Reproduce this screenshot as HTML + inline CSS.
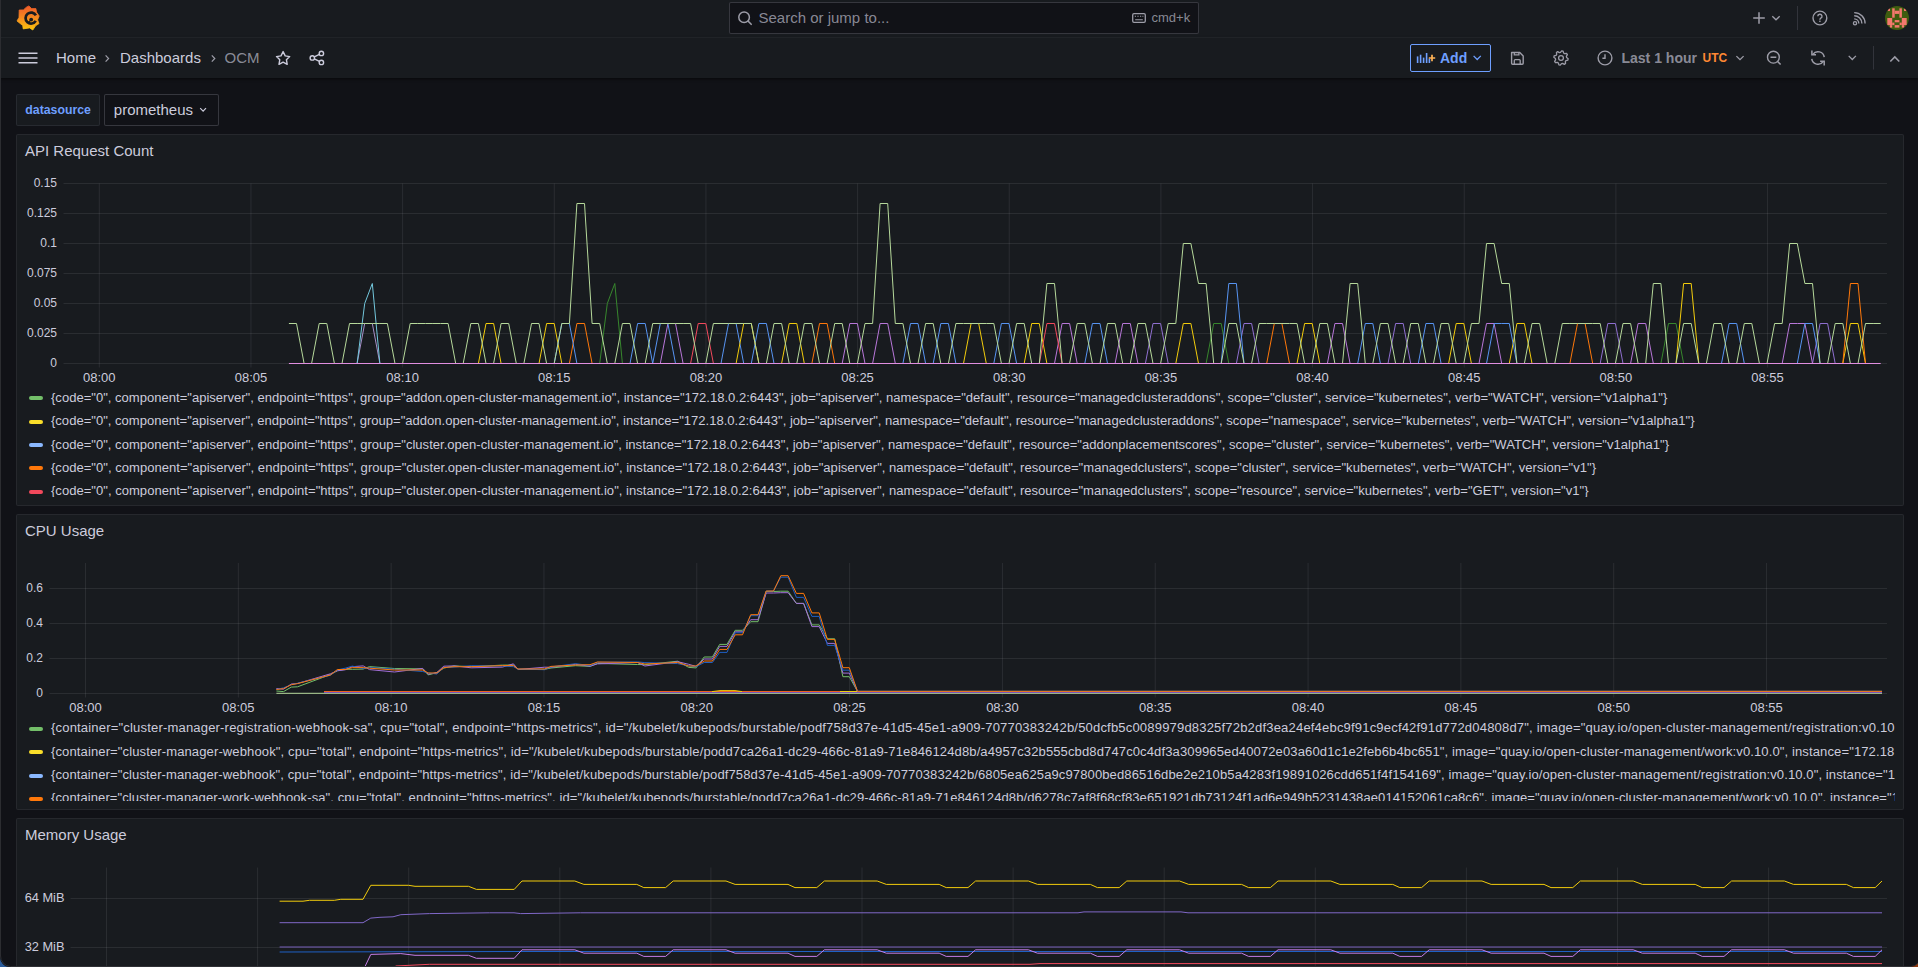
<!DOCTYPE html><html><head><meta charset="utf-8"><style>
*{box-sizing:border-box}
html,body{margin:0;padding:0}
body{width:1918px;height:967px;overflow:hidden;background:#111217;position:relative;font-family:"Liberation Sans",sans-serif}
.t{position:absolute;white-space:nowrap;line-height:1}
.b{position:absolute}
.lg{position:absolute;overflow:hidden}
.li{position:absolute;left:0;height:20px;white-space:nowrap;font-size:13.05px;color:#ccccdc;line-height:20px}
.dash{position:absolute;left:0;top:10.6px;width:14px;height:4px;border-radius:2px}
.lt{position:absolute;left:22px;top:2px}
svg.ov{position:absolute;left:0;top:0}
</style></head><body>
<div class="b" style="left:0px;top:0px;width:1918px;height:38px;background:#181b1f;border-radius:0px;border-bottom:1px solid rgba(204,204,220,0.07)"></div><div class="b" style="left:0px;top:38px;width:1918px;height:40px;background:#181b1f;border-radius:0px;box-shadow:0 1px 3px rgba(0,0,0,0.6)"></div><div class="b" style="left:729px;top:2px;width:470px;height:32px;background:#111217;border:1px solid rgba(204,204,220,0.2);border-radius:2px;"></div><div class="t" style="left:758.5px;top:10.30px;font-size:15px;color:rgba(204,204,220,0.65);font-weight:400;">Search or jump to...</div><div class="t" style="left:1151.5px;top:10.50px;font-size:13px;color:rgba(204,204,220,0.65);font-weight:400;">cmd+k</div><div class="t" style="left:56px;top:50.30px;font-size:15px;color:#ccccdc;font-weight:400;">Home</div><div class="t" style="left:120px;top:50.30px;font-size:15px;color:#ccccdc;font-weight:400;">Dashboards</div><div class="t" style="left:224.5px;top:50.30px;font-size:15px;color:rgba(204,204,220,0.65);font-weight:400;">OCM</div><div class="b" style="left:1410px;top:44px;width:81px;height:28px;background:transparent;border:1px solid #6e9fff;border-radius:2px;"></div><div class="t" style="left:1440px;top:51.15px;font-size:14px;color:#6e9fff;font-weight:700;">Add</div><div class="t" style="left:1621.5px;top:51.15px;font-size:14px;color:rgba(204,204,220,0.65);font-weight:700;">Last 1 hour</div><div class="t" style="left:1702.5px;top:52.34px;font-size:12px;color:#ff8833;font-weight:700;">UTC</div><div class="b" style="left:16px;top:94px;width:84px;height:32px;background:#181b1f;border:1px solid rgba(204,204,220,0.09);border-radius:2px;"></div><div class="t" style="left:25.3px;top:103.79px;font-size:12.3px;color:#6e9fff;font-weight:700;">datasource</div><div class="b" style="left:104px;top:94px;width:115px;height:32px;background:#111217;border:1px solid rgba(204,204,220,0.2);border-radius:2px;"></div><div class="t" style="left:113.8px;top:101.50px;font-size:15px;color:#ccccdc;font-weight:400;">prometheus</div><div class="b" style="left:16px;top:134px;width:1888px;height:372px;background:#181b1f;border:1px solid rgba(204,204,220,0.08);border-radius:2px;"></div><div class="t" style="left:25px;top:143.30px;font-size:15px;color:#ccccdc;font-weight:400;">API Request Count</div><div class="b" style="left:16px;top:514px;width:1888px;height:296px;background:#181b1f;border:1px solid rgba(204,204,220,0.08);border-radius:2px;"></div><div class="t" style="left:25px;top:523.30px;font-size:15px;color:#ccccdc;font-weight:400;">CPU Usage</div><div class="b" style="left:16px;top:818px;width:1888px;height:182px;background:#181b1f;border:1px solid rgba(204,204,220,0.08);border-radius:2px;"></div><div class="t" style="left:25px;top:827.30px;font-size:15px;color:#ccccdc;font-weight:400;">Memory Usage</div><div class="t" style="right:1861px;top:177.04px;font-size:12px;color:#ccccdc;font-weight:400;">0.15</div><div class="t" style="right:1861px;top:207.04px;font-size:12px;color:#ccccdc;font-weight:400;">0.125</div><div class="t" style="right:1861px;top:237.04px;font-size:12px;color:#ccccdc;font-weight:400;">0.1</div><div class="t" style="right:1861px;top:267.04px;font-size:12px;color:#ccccdc;font-weight:400;">0.075</div><div class="t" style="right:1861px;top:297.04px;font-size:12px;color:#ccccdc;font-weight:400;">0.05</div><div class="t" style="right:1861px;top:327.04px;font-size:12px;color:#ccccdc;font-weight:400;">0.025</div><div class="t" style="right:1861px;top:357.04px;font-size:12px;color:#ccccdc;font-weight:400;">0</div><div class="t" style="left:59.3px;width:80px;text-align:center;top:371.00px;font-size:13px;color:#ccccdc">08:00</div><div class="t" style="left:210.95999999999998px;width:80px;text-align:center;top:371.00px;font-size:13px;color:#ccccdc">08:05</div><div class="t" style="left:362.62px;width:80px;text-align:center;top:371.00px;font-size:13px;color:#ccccdc">08:10</div><div class="t" style="left:514.28px;width:80px;text-align:center;top:371.00px;font-size:13px;color:#ccccdc">08:15</div><div class="t" style="left:665.9399999999999px;width:80px;text-align:center;top:371.00px;font-size:13px;color:#ccccdc">08:20</div><div class="t" style="left:817.5999999999999px;width:80px;text-align:center;top:371.00px;font-size:13px;color:#ccccdc">08:25</div><div class="t" style="left:969.26px;width:80px;text-align:center;top:371.00px;font-size:13px;color:#ccccdc">08:30</div><div class="t" style="left:1120.9199999999998px;width:80px;text-align:center;top:371.00px;font-size:13px;color:#ccccdc">08:35</div><div class="t" style="left:1272.58px;width:80px;text-align:center;top:371.00px;font-size:13px;color:#ccccdc">08:40</div><div class="t" style="left:1424.24px;width:80px;text-align:center;top:371.00px;font-size:13px;color:#ccccdc">08:45</div><div class="t" style="left:1575.8999999999999px;width:80px;text-align:center;top:371.00px;font-size:13px;color:#ccccdc">08:50</div><div class="t" style="left:1727.56px;width:80px;text-align:center;top:371.00px;font-size:13px;color:#ccccdc">08:55</div><div class="t" style="right:1875px;top:582.04px;font-size:12px;color:#ccccdc;font-weight:400;">0.6</div><div class="t" style="right:1875px;top:617.04px;font-size:12px;color:#ccccdc;font-weight:400;">0.4</div><div class="t" style="right:1875px;top:652.04px;font-size:12px;color:#ccccdc;font-weight:400;">0.2</div><div class="t" style="right:1875px;top:687.04px;font-size:12px;color:#ccccdc;font-weight:400;">0</div><div class="t" style="left:45.5px;width:80px;text-align:center;top:701.00px;font-size:13px;color:#ccccdc">08:00</div><div class="t" style="left:198.32px;width:80px;text-align:center;top:701.00px;font-size:13px;color:#ccccdc">08:05</div><div class="t" style="left:351.14px;width:80px;text-align:center;top:701.00px;font-size:13px;color:#ccccdc">08:10</div><div class="t" style="left:503.96000000000004px;width:80px;text-align:center;top:701.00px;font-size:13px;color:#ccccdc">08:15</div><div class="t" style="left:656.78px;width:80px;text-align:center;top:701.00px;font-size:13px;color:#ccccdc">08:20</div><div class="t" style="left:809.5999999999999px;width:80px;text-align:center;top:701.00px;font-size:13px;color:#ccccdc">08:25</div><div class="t" style="left:962.42px;width:80px;text-align:center;top:701.00px;font-size:13px;color:#ccccdc">08:30</div><div class="t" style="left:1115.24px;width:80px;text-align:center;top:701.00px;font-size:13px;color:#ccccdc">08:35</div><div class="t" style="left:1268.06px;width:80px;text-align:center;top:701.00px;font-size:13px;color:#ccccdc">08:40</div><div class="t" style="left:1420.8799999999999px;width:80px;text-align:center;top:701.00px;font-size:13px;color:#ccccdc">08:45</div><div class="t" style="left:1573.6999999999998px;width:80px;text-align:center;top:701.00px;font-size:13px;color:#ccccdc">08:50</div><div class="t" style="left:1726.52px;width:80px;text-align:center;top:701.00px;font-size:13px;color:#ccccdc">08:55</div><div class="t" style="right:1853.5px;top:891.66px;font-size:12.8px;color:#ccccdc;font-weight:400;">64 MiB</div><div class="t" style="right:1853.5px;top:940.66px;font-size:12.8px;color:#ccccdc;font-weight:400;">32 MiB</div><div class="lg" style="left:29px;top:385.9px;width:1866px;height:111.10000000000002px"><div class="li" style="top:0.00px"><span class="dash" style="background:#73bf69"></span><span class="lt" style="letter-spacing:0.0034px">{code="0", component="apiserver", endpoint="https", group="addon.open-cluster-management.io", instance="172.18.0.2:6443", job="apiserver", namespace="default", resource="managedclusteraddons", scope="cluster", service="kubernetes", verb="WATCH", version="v1alpha1"}</span></div><div class="li" style="top:23.33px"><span class="dash" style="background:#fade2a"></span><span class="lt" style="letter-spacing:-0.0035px">{code="0", component="apiserver", endpoint="https", group="addon.open-cluster-management.io", instance="172.18.0.2:6443", job="apiserver", namespace="default", resource="managedclusteraddons", scope="namespace", service="kubernetes", verb="WATCH", version="v1alpha1"}</span></div><div class="li" style="top:46.66px"><span class="dash" style="background:#8ab8ff"></span><span class="lt" style="letter-spacing:0.0072px">{code="0", component="apiserver", endpoint="https", group="cluster.open-cluster-management.io", instance="172.18.0.2:6443", job="apiserver", namespace="default", resource="addonplacementscores", scope="cluster", service="kubernetes", verb="WATCH", version="v1alpha1"}</span></div><div class="li" style="top:69.99px"><span class="dash" style="background:#ff780a"></span><span class="lt" style="letter-spacing:0.0145px">{code="0", component="apiserver", endpoint="https", group="cluster.open-cluster-management.io", instance="172.18.0.2:6443", job="apiserver", namespace="default", resource="managedclusters", scope="cluster", service="kubernetes", verb="WATCH", version="v1"}</span></div><div class="li" style="top:93.32px"><span class="dash" style="background:#f2495c"></span><span class="lt" style="letter-spacing:0.0134px">{code="0", component="apiserver", endpoint="https", group="cluster.open-cluster-management.io", instance="172.18.0.2:6443", job="apiserver", namespace="default", resource="managedclusters", scope="resource", service="kubernetes", verb="GET", version="v1"}</span></div></div><div class="lg" style="left:29px;top:716.4px;width:1866px;height:84.60000000000002px"><div class="li" style="top:0.00px"><span class="dash" style="background:#73bf69"></span><span class="lt" style="letter-spacing:0.169px">{container="cluster-manager-registration-webhook-sa", cpu="total", endpoint="https-metrics", id="/kubelet/kubepods/burstable/podf758d37e-41d5-45e1-a909-70770383242b/50dcfb5c0089979d8325f72b2df3ea24ef4ebc9f91c9ecf42f91d772d04808d7", image="quay.io/open-cluster-management/registration:v0.10.0", instance="172.18.0.2:10250"}</span></div><div class="li" style="top:23.33px"><span class="dash" style="background:#fade2a"></span><span class="lt" style="letter-spacing:0.1053px">{container="cluster-manager-webhook", cpu="total", endpoint="https-metrics", id="/kubelet/kubepods/burstable/podd7ca26a1-dc29-466c-81a9-71e846124d8b/a4957c32b555cbd8d747c0c4df3a309965ed40072e03a60d1c1e2feb6b4bc651", image="quay.io/open-cluster-management/work:v0.10.0", instance="172.18.0.2:10250"}</span></div><div class="li" style="top:46.66px"><span class="dash" style="background:#8ab8ff"></span><span class="lt" style="letter-spacing:0.0987px">{container="cluster-manager-webhook", cpu="total", endpoint="https-metrics", id="/kubelet/kubepods/burstable/podf758d37e-41d5-45e1-a909-70770383242b/6805ea625a9c97800bed86516dbe2e210b5a4283f19891026cdd651f4f154169", image="quay.io/open-cluster-management/registration:v0.10.0", instance="172.18.0.2:10250"}</span></div><div class="li" style="top:69.99px"><span class="dash" style="background:#ff780a"></span><span class="lt" style="letter-spacing:0.0799px">{container="cluster-manager-work-webhook-sa", cpu="total", endpoint="https-metrics", id="/kubelet/kubepods/burstable/podd7ca26a1-dc29-466c-81a9-71e846124d8b/d6278c7af8f68cf83e651921db73124f1ad6e949b5231438ae014152061ca8c6", image="quay.io/open-cluster-management/work:v0.10.0", instance="172.18.0.2:10250"}</span></div></div>
<svg class="ov" width="1918" height="967" viewBox="0 0 1918 967" fill="none"><path d="M63.5 183.5H1887" stroke="rgba(204,204,220,0.10)"/><path d="M63.5 213.5H1887" stroke="rgba(204,204,220,0.10)"/><path d="M63.5 243.5H1887" stroke="rgba(204,204,220,0.10)"/><path d="M63.5 273.5H1887" stroke="rgba(204,204,220,0.10)"/><path d="M63.5 303.5H1887" stroke="rgba(204,204,220,0.10)"/><path d="M63.5 333.5H1887" stroke="rgba(204,204,220,0.10)"/><path d="M63.5 363.5H1887" stroke="rgba(204,204,220,0.10)"/><path d="M99.3 183.5V367.5" stroke="rgba(204,204,220,0.10)"/><path d="M250.95999999999998 183.5V367.5" stroke="rgba(204,204,220,0.10)"/><path d="M402.62 183.5V367.5" stroke="rgba(204,204,220,0.10)"/><path d="M554.28 183.5V367.5" stroke="rgba(204,204,220,0.10)"/><path d="M705.9399999999999 183.5V367.5" stroke="rgba(204,204,220,0.10)"/><path d="M857.5999999999999 183.5V367.5" stroke="rgba(204,204,220,0.10)"/><path d="M1009.26 183.5V367.5" stroke="rgba(204,204,220,0.10)"/><path d="M1160.9199999999998 183.5V367.5" stroke="rgba(204,204,220,0.10)"/><path d="M1312.58 183.5V367.5" stroke="rgba(204,204,220,0.10)"/><path d="M1464.24 183.5V367.5" stroke="rgba(204,204,220,0.10)"/><path d="M1615.8999999999999 183.5V367.5" stroke="rgba(204,204,220,0.10)"/><path d="M1767.56 183.5V367.5" stroke="rgba(204,204,220,0.10)"/><path d="M49.5 588.5H1887" stroke="rgba(204,204,220,0.10)"/><path d="M49.5 623.5H1887" stroke="rgba(204,204,220,0.10)"/><path d="M49.5 658.5H1887" stroke="rgba(204,204,220,0.10)"/><path d="M49.5 693.5H1887" stroke="rgba(204,204,220,0.10)"/><path d="M85.5 563V697.5" stroke="rgba(204,204,220,0.10)"/><path d="M238.32 563V697.5" stroke="rgba(204,204,220,0.10)"/><path d="M391.14 563V697.5" stroke="rgba(204,204,220,0.10)"/><path d="M543.96 563V697.5" stroke="rgba(204,204,220,0.10)"/><path d="M696.78 563V697.5" stroke="rgba(204,204,220,0.10)"/><path d="M849.5999999999999 563V697.5" stroke="rgba(204,204,220,0.10)"/><path d="M1002.42 563V697.5" stroke="rgba(204,204,220,0.10)"/><path d="M1155.24 563V697.5" stroke="rgba(204,204,220,0.10)"/><path d="M1308.06 563V697.5" stroke="rgba(204,204,220,0.10)"/><path d="M1460.8799999999999 563V697.5" stroke="rgba(204,204,220,0.10)"/><path d="M1613.6999999999998 563V697.5" stroke="rgba(204,204,220,0.10)"/><path d="M1766.52 563V697.5" stroke="rgba(204,204,220,0.10)"/><path d="M70.5 898.5H1887" stroke="rgba(204,204,220,0.10)"/><path d="M70.5 947.5H1887" stroke="rgba(204,204,220,0.10)"/><path d="M106.5 867.5V1104" stroke="rgba(204,204,220,0.10)"/><path d="M257.6 867.5V1104" stroke="rgba(204,204,220,0.10)"/><path d="M408.7 867.5V1104" stroke="rgba(204,204,220,0.10)"/><path d="M559.8 867.5V1104" stroke="rgba(204,204,220,0.10)"/><path d="M710.9 867.5V1104" stroke="rgba(204,204,220,0.10)"/><path d="M862.0 867.5V1104" stroke="rgba(204,204,220,0.10)"/><path d="M1013.0999999999999 867.5V1104" stroke="rgba(204,204,220,0.10)"/><path d="M1164.2 867.5V1104" stroke="rgba(204,204,220,0.10)"/><path d="M1315.3 867.5V1104" stroke="rgba(204,204,220,0.10)"/><path d="M1466.3999999999999 867.5V1104" stroke="rgba(204,204,220,0.10)"/><path d="M1617.5 867.5V1104" stroke="rgba(204,204,220,0.10)"/><path d="M1768.6 867.5V1104" stroke="rgba(204,204,220,0.10)"/><path d="M478.4 363.5 L486.0 323.5 L493.6 323.5 L501.1 363.5" stroke="#f2cc0c" stroke-width="1" stroke-opacity="1" fill="none" stroke-linejoin="round"/><path d="M539.0 363.5 L546.6 323.5 L554.2 323.5 L561.8 363.5" stroke="#f2cc0c" stroke-width="1" stroke-opacity="1" fill="none" stroke-linejoin="round"/><path d="M569.4 363.5 L576.9 323.5 L584.5 323.5 L592.1 363.5" stroke="#ff780a" stroke-width="1" stroke-opacity="1" fill="none" stroke-linejoin="round"/><path d="M630.0 363.5 L637.6 323.5 L645.2 323.5 L652.7 363.5" stroke="#5794f2" stroke-width="1" stroke-opacity="1" fill="none" stroke-linejoin="round"/><path d="M660.3 363.5 L667.9 323.5 L675.5 323.5 L683.1 363.5" stroke="#b877d9" stroke-width="1" stroke-opacity="1" fill="none" stroke-linejoin="round"/><path d="M690.6 363.5 L698.2 323.5 L705.8 323.5 L713.4 363.5" stroke="#f2495c" stroke-width="1" stroke-opacity="1" fill="none" stroke-linejoin="round"/><path d="M721.0 363.5 L728.5 323.5 L736.1 323.5 L743.7 363.5" stroke="#5794f2" stroke-width="1" stroke-opacity="1" fill="none" stroke-linejoin="round"/><path d="M751.3 363.5 L758.9 323.5 L766.4 323.5 L774.0 363.5" stroke="#5794f2" stroke-width="1" stroke-opacity="1" fill="none" stroke-linejoin="round"/><path d="M781.6 363.5 L789.2 323.5 L796.8 323.5 L804.3 363.5" stroke="#f2cc0c" stroke-width="1" stroke-opacity="1" fill="none" stroke-linejoin="round"/><path d="M811.9 363.5 L819.5 323.5 L827.1 323.5 L834.7 363.5" stroke="#ff780a" stroke-width="1" stroke-opacity="1" fill="none" stroke-linejoin="round"/><path d="M842.2 363.5 L849.8 323.5 L857.4 323.5 L865.0 363.5" stroke="#b877d9" stroke-width="1" stroke-opacity="1" fill="none" stroke-linejoin="round"/><path d="M872.6 363.5 L880.1 323.5 L887.7 323.5 L895.3 363.5" stroke="#b877d9" stroke-width="1" stroke-opacity="1" fill="none" stroke-linejoin="round"/><path d="M902.9 363.5 L910.5 323.5 L918.0 323.5 L925.6 363.5" stroke="#5794f2" stroke-width="1" stroke-opacity="1" fill="none" stroke-linejoin="round"/><path d="M933.2 363.5 L940.8 323.5 L948.4 323.5 L955.9 363.5" stroke="#5794f2" stroke-width="1" stroke-opacity="1" fill="none" stroke-linejoin="round"/><path d="M963.5 363.5 L971.1 323.5 L978.7 323.5 L986.3 363.5" stroke="#f2cc0c" stroke-width="1" stroke-opacity="1" fill="none" stroke-linejoin="round"/><path d="M993.8 363.5 L1001.4 323.5 L1009.0 323.5 L1016.6 363.5" stroke="#5794f2" stroke-width="1" stroke-opacity="1" fill="none" stroke-linejoin="round"/><path d="M1024.2 363.5 L1031.7 323.5 L1039.3 323.5 L1046.9 363.5" stroke="#f2cc0c" stroke-width="1" stroke-opacity="1" fill="none" stroke-linejoin="round"/><path d="M1054.5 363.5 L1062.1 323.5 L1069.6 323.5 L1077.2 363.5" stroke="#b877d9" stroke-width="1" stroke-opacity="1" fill="none" stroke-linejoin="round"/><path d="M1084.8 363.5 L1092.4 323.5 L1100.0 323.5 L1107.5 363.5" stroke="#5794f2" stroke-width="1" stroke-opacity="1" fill="none" stroke-linejoin="round"/><path d="M1115.1 363.5 L1122.7 323.5 L1130.3 323.5 L1137.9 363.5" stroke="#b877d9" stroke-width="1" stroke-opacity="1" fill="none" stroke-linejoin="round"/><path d="M1145.4 363.5 L1153.0 323.5 L1160.6 323.5 L1168.2 363.5" stroke="#8f6fd0" stroke-width="1" stroke-opacity="1" fill="none" stroke-linejoin="round"/><path d="M1175.8 363.5 L1183.3 323.5 L1190.9 323.5 L1198.5 363.5" stroke="#f2cc0c" stroke-width="1" stroke-opacity="1" fill="none" stroke-linejoin="round"/><path d="M1206.1 363.5 L1213.7 323.5 L1221.2 323.5 L1228.8 363.5" stroke="#37872d" stroke-width="1" stroke-opacity="1" fill="none" stroke-linejoin="round"/><path d="M1236.4 363.5 L1244.0 323.5 L1251.6 323.5 L1259.1 363.5" stroke="#8f6fd0" stroke-width="1" stroke-opacity="1" fill="none" stroke-linejoin="round"/><path d="M1266.7 363.5 L1274.3 323.5 L1281.9 323.5 L1289.5 363.5" stroke="#ff780a" stroke-width="1" stroke-opacity="1" fill="none" stroke-linejoin="round"/><path d="M1297.0 363.5 L1304.6 323.5 L1312.2 323.5 L1319.8 363.5" stroke="#f2cc0c" stroke-width="1" stroke-opacity="1" fill="none" stroke-linejoin="round"/><path d="M1327.4 363.5 L1334.9 323.5 L1342.5 323.5 L1350.1 363.5" stroke="#b877d9" stroke-width="1" stroke-opacity="1" fill="none" stroke-linejoin="round"/><path d="M1357.7 363.5 L1365.3 323.5 L1372.8 323.5 L1380.4 363.5" stroke="#5794f2" stroke-width="1" stroke-opacity="1" fill="none" stroke-linejoin="round"/><path d="M1388.0 363.5 L1395.6 323.5 L1403.2 323.5 L1410.7 363.5" stroke="#8f6fd0" stroke-width="1" stroke-opacity="1" fill="none" stroke-linejoin="round"/><path d="M1418.3 363.5 L1425.9 323.5 L1433.5 323.5 L1441.1 363.5" stroke="#5794f2" stroke-width="1" stroke-opacity="1" fill="none" stroke-linejoin="round"/><path d="M1448.6 363.5 L1456.2 323.5 L1463.8 323.5 L1471.4 363.5" stroke="#f2cc0c" stroke-width="1" stroke-opacity="1" fill="none" stroke-linejoin="round"/><path d="M1479.0 363.5 L1486.5 323.5 L1494.1 323.5 L1501.7 363.5" stroke="#b877d9" stroke-width="1" stroke-opacity="1" fill="none" stroke-linejoin="round"/><path d="M1509.3 363.5 L1516.9 323.5 L1524.4 323.5 L1532.0 363.5" stroke="#f2cc0c" stroke-width="1" stroke-opacity="1" fill="none" stroke-linejoin="round"/><path d="M1569.9 363.5 L1577.5 323.5 L1585.1 323.5 L1592.7 363.5" stroke="#ff780a" stroke-width="1" stroke-opacity="1" fill="none" stroke-linejoin="round"/><path d="M1600.2 363.5 L1607.8 323.5 L1615.4 323.5 L1623.0 363.5" stroke="#8f6fd0" stroke-width="1" stroke-opacity="1" fill="none" stroke-linejoin="round"/><path d="M1630.6 363.5 L1638.1 323.5 L1645.7 323.5 L1653.3 363.5" stroke="#b877d9" stroke-width="1" stroke-opacity="1" fill="none" stroke-linejoin="round"/><path d="M1660.9 363.5 L1668.5 323.5 L1676.0 323.5 L1683.6 363.5" stroke="#37872d" stroke-width="1" stroke-opacity="1" fill="none" stroke-linejoin="round"/><path d="M1721.5 363.5 L1729.1 323.5 L1736.7 323.5 L1744.3 363.5" stroke="#5794f2" stroke-width="1" stroke-opacity="1" fill="none" stroke-linejoin="round"/><path d="M1812.5 363.5 L1820.1 323.5 L1827.6 323.5 L1835.2 363.5" stroke="#8f6fd0" stroke-width="1" stroke-opacity="1" fill="none" stroke-linejoin="round"/><path d="M1842.8 363.5 L1850.4 323.5 L1858.0 323.5 L1865.5 363.5" stroke="#f2cc0c" stroke-width="1" stroke-opacity="1" fill="none" stroke-linejoin="round"/><path d="M357.1 363.5 L364.7 323.5 L372.3 323.5 L379.9 363.5" stroke="#a58fc8" stroke-width="1" stroke-opacity="1" fill="none" stroke-linejoin="round"/><path d="M357.1 363.5 L364.7 303.5 L372.3 283.5 L379.9 363.5" stroke="#73c7dc" stroke-width="1" stroke-opacity="1" fill="none" stroke-linejoin="round"/><path d="M599.7 363.5 L607.3 303.5 L614.8 283.5 L622.4 363.5" stroke="#37872d" stroke-width="1" stroke-opacity="1" fill="none" stroke-linejoin="round"/><path d="M1039.3 363.5 L1046.9 323.5 L1054.5 323.5 L1062.1 363.5" stroke="#f2495c" stroke-width="1" stroke-opacity="1" fill="none" stroke-linejoin="round"/><path d="M1782.2 363.5 L1789.7 323.5 L1797.3 323.5 L1804.9 323.5 L1812.5 363.5" stroke="#b877d9" stroke-width="1" stroke-opacity="1" fill="none" stroke-linejoin="round"/><path d="M1797.3 363.5 L1804.9 323.5 L1812.5 323.5 L1820.1 363.5" stroke="#5794f2" stroke-width="1" stroke-opacity="1" fill="none" stroke-linejoin="round"/><path d="M554.2 363.5 L561.8 323.5 L569.4 323.5 L576.9 363.5" stroke="#5794f2" stroke-width="1" stroke-opacity="1" fill="none" stroke-linejoin="round"/><path d="M736.1 363.5 L743.7 323.5 L751.3 323.5 L758.9 363.5" stroke="#f2cc0c" stroke-width="1" stroke-opacity="1" fill="none" stroke-linejoin="round"/><path d="M652.7 363.5 L660.3 323.5 L667.9 323.5 L675.5 363.5" stroke="#5794f2" stroke-width="1" stroke-opacity="1" fill="none" stroke-linejoin="round"/><path d="M1221.2 363.5 L1228.8 283.5 L1236.4 283.5 L1244.0 363.5" stroke="#5794f2" stroke-width="1" stroke-opacity="1" fill="none" stroke-linejoin="round"/><path d="M1676.0 363.5 L1683.6 283.5 L1691.2 283.5 L1698.8 363.5" stroke="#f2cc0c" stroke-width="1" stroke-opacity="1" fill="none" stroke-linejoin="round"/><path d="M1842.8 363.5 L1850.4 283.5 L1858.0 283.5 L1865.5 363.5" stroke="#ff780a" stroke-width="1" stroke-opacity="1" fill="none" stroke-linejoin="round"/><path d="M1486.5 363.5 L1494.1 323.5 L1501.7 323.5 L1509.3 323.5 L1516.9 363.5" stroke="#5794f2" stroke-width="1" stroke-opacity="1" fill="none" stroke-linejoin="round"/><path d="M288.9 323.5 L296.5 323.5 L304.1 363.5 L311.6 363.5 L319.2 323.5 L326.8 323.5 L334.4 363.5 L342.0 363.5 L349.5 323.5 L357.1 323.5 L364.7 323.5 L372.3 323.5 L379.9 323.5 L387.4 323.5 L395.0 363.5 L402.6 363.5 L410.2 323.5 L417.8 323.5 L425.3 323.5 L432.9 323.5 L440.5 323.5 L448.1 323.5 L455.7 363.5 L463.2 363.5 L470.8 323.5 L478.4 323.5 L486.0 363.5 L493.6 363.5 L501.1 323.5 L508.7 323.5 L516.3 363.5 L523.9 363.5 L531.5 323.5 L539.0 323.5 L546.6 363.5 L554.2 363.5 L561.8 323.5 L569.4 323.5 L576.9 203.5 L584.5 203.5 L592.1 323.5 L599.7 323.5 L607.3 363.5 L614.8 363.5 L622.4 323.5 L630.0 323.5 L637.6 363.5 L645.2 363.5 L652.7 323.5 L660.3 323.5 L667.9 323.5 L675.5 323.5 L683.1 323.5 L690.6 323.5 L698.2 363.5 L705.8 363.5 L713.4 323.5 L721.0 323.5 L728.5 323.5 L736.1 323.5 L743.7 323.5 L751.3 323.5 L758.9 363.5 L766.4 363.5 L774.0 323.5 L781.6 323.5 L789.2 363.5 L796.8 363.5 L804.3 323.5 L811.9 323.5 L819.5 363.5 L827.1 363.5 L834.7 323.5 L842.2 323.5 L849.8 363.5 L857.4 363.5 L865.0 323.5 L872.6 323.5 L880.1 203.5 L887.7 203.5 L895.3 323.5 L902.9 323.5 L910.5 363.5 L918.0 363.5 L925.6 323.5 L933.2 323.5 L940.8 363.5 L948.4 363.5 L955.9 323.5 L963.5 323.5 L971.1 323.5 L978.7 323.5 L986.3 323.5 L993.8 323.5 L1001.4 363.5 L1009.0 363.5 L1016.6 323.5 L1024.2 323.5 L1031.7 363.5 L1039.3 363.5 L1046.9 283.5 L1054.5 283.5 L1062.1 363.5 L1069.6 363.5 L1077.2 323.5 L1084.8 323.5 L1092.4 363.5 L1100.0 363.5 L1107.5 323.5 L1115.1 323.5 L1122.7 363.5 L1130.3 363.5 L1137.9 323.5 L1145.4 323.5 L1153.0 363.5 L1160.6 363.5 L1168.2 323.5 L1175.8 323.5 L1183.3 243.5 L1190.9 243.5 L1198.5 283.5 L1206.1 283.5 L1213.7 363.5 L1221.2 363.5 L1228.8 323.5 L1236.4 323.5 L1244.0 363.5 L1251.6 363.5 L1259.1 323.5 L1266.7 323.5 L1274.3 323.5 L1281.9 323.5 L1289.5 323.5 L1297.0 323.5 L1304.6 363.5 L1312.2 363.5 L1319.8 323.5 L1327.4 323.5 L1334.9 363.5 L1342.5 363.5 L1350.1 283.5 L1357.7 283.5 L1365.3 363.5 L1372.8 363.5 L1380.4 323.5 L1388.0 323.5 L1395.6 363.5 L1403.2 363.5 L1410.7 323.5 L1418.3 323.5 L1425.9 363.5 L1433.5 363.5 L1441.1 323.5 L1448.6 323.5 L1456.2 363.5 L1463.8 363.5 L1471.4 323.5 L1479.0 323.5 L1486.5 243.5 L1494.1 243.5 L1501.7 283.5 L1509.3 283.5 L1516.9 363.5 L1524.4 363.5 L1532.0 323.5 L1539.6 323.5 L1547.2 363.5 L1554.8 363.5 L1562.3 323.5 L1569.9 323.5 L1577.5 323.5 L1585.1 323.5 L1592.7 323.5 L1600.2 323.5 L1607.8 363.5 L1615.4 363.5 L1623.0 323.5 L1630.6 323.5 L1638.1 363.5 L1645.7 363.5 L1653.3 283.5 L1660.9 283.5 L1668.5 363.5 L1676.0 363.5 L1683.6 323.5 L1691.2 323.5 L1698.8 363.5 L1706.4 363.5 L1713.9 323.5 L1721.5 323.5 L1729.1 363.5 L1736.7 363.5 L1744.3 323.5 L1751.8 323.5 L1759.4 363.5 L1767.0 363.5 L1774.6 323.5 L1782.2 323.5 L1789.7 243.5 L1797.3 243.5 L1804.9 283.5 L1812.5 283.5 L1820.1 363.5 L1827.6 363.5 L1835.2 323.5 L1842.8 323.5 L1850.4 363.5 L1858.0 363.5 L1865.5 323.5 L1873.1 323.5 L1880.7 323.5" stroke="#b6d99b" stroke-width="1" stroke-opacity="1" fill="none" stroke-linejoin="round"/><path d="M288.9 363.5 L1880.7 363.5" stroke="#e08ee0" stroke-width="1.2" stroke-opacity="1" fill="none" stroke-linejoin="round"/><path d="M276.4 693.3 L1882.0 693.3" stroke="#b6d99b" stroke-width="1" stroke-opacity="1" fill="none" stroke-linejoin="round"/><path d="M324.0 692.5 L1882.0 692.5" stroke="#7a55b8" stroke-width="1" stroke-opacity="1" fill="none" stroke-linejoin="round"/><path d="M324.0 691.5 L1882.0 691.5" stroke="#f0601c" stroke-width="1" stroke-opacity="1" fill="none" stroke-linejoin="round"/><path d="M840.0 691.5 L870.0 691.5" stroke="#f2cc0c" stroke-width="1" stroke-opacity="1" fill="none" stroke-linejoin="round"/><path d="M920.0 691.5 L960.0 691.5" stroke="#f2cc0c" stroke-width="1" stroke-opacity="1" fill="none" stroke-linejoin="round"/><path d="M975.0 691.5 L1065.0 691.5" stroke="#f2cc0c" stroke-width="1" stroke-opacity="1" fill="none" stroke-linejoin="round"/><path d="M1340.0 691.5 L1430.0 691.5" stroke="#f2cc0c" stroke-width="1" stroke-opacity="1" fill="none" stroke-linejoin="round"/><path d="M1460.0 691.5 L1830.0 691.5" stroke="#f2cc0c" stroke-width="1" stroke-opacity="1" fill="none" stroke-linejoin="round"/><path d="M712.0 691.6 L720.0 690.6 L735.0 690.6 L742.0 691.6" stroke="#f2cc0c" stroke-width="1" stroke-opacity="1" fill="none" stroke-linejoin="round"/><path d="M276.4 691.0 L283.5 691.6 L291.3 687.1 L297.5 686.8 L330.4 674.6 L337.4 670.7 L345.2 669.3 L352.3 669.3 L363.2 669.1 L369.5 666.6 L394.5 668.5 L422.7 668.9 L428.2 674.9 L436.8 672.7 L443.8 668.1 L454.0 665.9 L471.2 666.7 L502.5 665.1 L513.4 665.0 L518.1 669.3 L544.7 669.3 L551.0 668.0 L575.5 665.7 L590.0 666.4 L597.4 663.4 L637.6 664.5 L644.9 664.7 L677.7 661.2 L688.7 667.4 L696.0 667.9 L704.2 657.0 L712.4 657.0 L719.7 644.4 L727.0 644.4 L735.2 630.3 L742.5 630.3 L750.7 621.7 L758.0 621.7 L766.2 591.5 L773.5 591.5 L780.8 591.2 L788.1 591.2 L796.4 603.4 L803.6 603.4 L811.9 624.9 L819.2 624.9 L827.4 638.8 L834.7 638.8 L842.9 676.7 L849.3 676.7 L857.5 691.4 L1882.0 691.4" stroke="#73bf69" stroke-width="1" stroke-opacity="1" fill="none" stroke-linejoin="round"/><path d="M276.4 688.5 L283.5 689.2 L291.3 684.0 L297.5 683.5 L330.4 673.8 L337.4 670.8 L345.2 669.8 L352.3 666.7 L363.2 665.9 L369.5 669.6 L394.5 672.0 L422.7 668.4 L428.2 674.2 L436.8 672.6 L443.8 666.2 L454.0 665.9 L471.2 667.8 L502.5 667.1 L513.4 663.8 L518.1 669.5 L544.7 667.2 L551.0 667.3 L575.5 664.3 L590.0 666.2 L597.4 663.9 L637.6 662.5 L644.9 666.0 L677.7 661.7 L688.7 664.3 L696.0 666.4 L704.2 659.0 L712.4 659.0 L719.7 646.4 L727.0 646.4 L735.2 631.8 L742.5 631.8 L750.7 619.7 L758.0 619.7 L766.2 593.0 L773.5 593.0 L780.8 592.7 L788.1 592.7 L796.4 603.4 L803.6 603.4 L811.9 626.6 L819.2 626.6 L827.4 643.4 L834.7 643.4 L842.9 673.1 L849.3 673.1 L857.5 691.4 L1882.0 691.4" stroke="#a36fd9" stroke-width="1" stroke-opacity="1" fill="none" stroke-linejoin="round"/><path d="M276.4 689.5 L283.5 687.8 L291.3 684.8 L297.5 683.2 L330.4 675.3 L337.4 669.9 L345.2 668.2 L352.3 666.1 L363.2 668.6 L369.5 667.5 L394.5 669.2 L422.7 671.5 L428.2 672.9 L436.8 674.0 L443.8 667.5 L454.0 667.1 L471.2 665.7 L502.5 666.0 L513.4 666.7 L518.1 669.1 L544.7 669.7 L551.0 666.9 L575.5 663.7 L590.0 665.5 L597.4 662.3 L637.6 661.9 L644.9 662.6 L677.7 663.6 L688.7 665.9 L696.0 666.7 L704.2 662.5 L712.4 662.5 L719.7 652.4 L727.0 652.4 L735.2 632.8 L742.5 632.8 L750.7 615.7 L758.0 615.7 L766.2 591.0 L773.5 591.0 L780.8 577.2 L788.1 577.2 L796.4 597.4 L803.6 597.4 L811.9 616.4 L819.2 616.4 L827.4 645.4 L834.7 645.4 L842.9 670.2 L849.3 670.2 L857.5 691.4 L1882.0 691.4" stroke="#1f60c4" stroke-width="1" stroke-opacity="1" fill="none" stroke-linejoin="round"/><path d="M276.4 689.5 L283.5 688.6 L291.3 684.7 L297.5 683.6 L330.4 675.0 L337.4 669.5 L345.2 669.5 L352.3 667.6 L363.2 667.6 L369.5 668.2 L394.5 670.0 L422.7 670.0 L428.2 673.0 L436.8 673.0 L443.8 667.6 L454.0 666.7 L471.2 666.7 L502.5 665.6 L513.4 665.6 L518.1 669.0 L544.7 669.0 L551.0 666.4 L575.5 665.0 L590.0 664.7 L597.4 662.0 L637.6 662.5 L644.9 664.0 L677.7 662.5 L688.7 666.0 L696.0 666.0 L704.2 661.0 L712.4 661.0 L719.7 649.4 L727.0 649.4 L735.2 634.8 L742.5 634.8 L750.7 614.7 L758.0 614.7 L766.2 591.0 L773.5 591.0 L780.8 575.7 L788.1 575.7 L796.4 593.4 L803.6 593.4 L811.9 612.9 L819.2 612.9 L827.4 639.4 L834.7 639.4 L842.9 667.7 L849.3 667.7 L857.5 691.4 L1882.0 691.4" stroke="#ff780a" stroke-width="1" stroke-opacity="1" fill="none" stroke-linejoin="round"/><path d="M279.6 922.7 L363.0 922.7 L370.8 918.1 L380.0 917.3 L393.0 916.8 L400.8 914.7 L429.4 913.6 L489.4 912.8 L514.0 912.8 L520.7 913.6 L580.6 912.8 L1078.0 912.8 L1084.0 911.9 L1181.0 911.9 L1188.0 912.8 L1882.0 912.8" stroke="#8068c8" stroke-width="1" stroke-opacity="1" fill="none" stroke-linejoin="round"/><path d="M279.6 947.0 L1882.0 947.0" stroke="#7760bb" stroke-width="1" stroke-opacity="1" fill="none" stroke-linejoin="round"/><path d="M279.6 952.0 L520.0 951.5 L1882.0 951.5" stroke="#1f60c4" stroke-width="1" stroke-opacity="1" fill="none" stroke-linejoin="round"/><path d="M364.3 968.0 L370.8 954.4 L400.8 953.6 L415.0 955.3 L468.5 955.3 L476.4 958.3 L514.2 958.3 L522.0 949.8 L574.8 949.8 L583.9 953.2 L636.8 953.2 L643.8 956.4 L665.6 956.4 L673.2 949.8 L673.2 949.8 L726.0 949.8 L735.1 953.2 L788.0 953.2 L795.0 956.4 L816.8 956.4 L824.4 949.8 L824.4 949.8 L877.2 949.8 L886.3 953.2 L939.2 953.2 L946.2 956.4 L968.0 956.4 L975.6 949.8 L975.6 949.8 L1028.4 949.8 L1037.5 953.2 L1090.4 953.2 L1097.4 956.4 L1119.2 956.4 L1126.8 949.8 L1126.8 949.8 L1179.6 949.8 L1188.7 953.2 L1241.6 953.2 L1248.6 956.4 L1270.4 956.4 L1278.0 949.8 L1278.0 949.8 L1330.8 949.8 L1339.9 953.2 L1392.8 953.2 L1399.8 956.4 L1421.6 956.4 L1429.2 949.8 L1429.2 949.8 L1482.0 949.8 L1491.1 953.2 L1544.0 953.2 L1551.0 956.4 L1572.8 956.4 L1580.4 949.8 L1580.4 949.8 L1633.2 949.8 L1642.3 953.2 L1695.2 953.2 L1702.2 956.4 L1724.0 956.4 L1731.6 949.8 L1731.6 949.8 L1784.4 949.8 L1793.5 953.2 L1846.4 953.2 L1853.4 956.4 L1875.2 956.4 L1882.0 949.8" stroke="#c67ee8" stroke-width="1" stroke-opacity="1" fill="none" stroke-linejoin="round"/><path d="M395.6 966.0 L429.4 964.3 L1030.0 964.3 L1040.0 963.6 L1882.0 963.6" stroke="#f2495c" stroke-width="1" stroke-opacity="1" fill="none" stroke-linejoin="round"/><path d="M279.6 901.2 L303.0 901.2 L309.5 900.3 L334.3 900.3 L340.8 899.3 L363.0 899.3 L370.8 885.3 L408.6 885.3 L415.0 886.3 L468.5 886.3 L476.4 889.4 L514.2 889.4 L522.0 881.0 L574.8 881.0 L583.9 884.4 L636.8 884.4 L643.8 887.6 L665.6 887.6 L673.2 881.0 L673.2 881.0 L726.0 881.0 L735.1 884.4 L788.0 884.4 L795.0 887.6 L816.8 887.6 L824.4 881.0 L824.4 881.0 L877.2 881.0 L886.3 884.4 L939.2 884.4 L946.2 887.6 L968.0 887.6 L975.6 881.0 L975.6 881.0 L1028.4 881.0 L1037.5 884.4 L1090.4 884.4 L1097.4 887.6 L1119.2 887.6 L1126.8 881.0 L1126.8 881.0 L1179.6 881.0 L1188.7 884.4 L1241.6 884.4 L1248.6 887.6 L1270.4 887.6 L1278.0 881.0 L1278.0 881.0 L1330.8 881.0 L1339.9 884.4 L1392.8 884.4 L1399.8 887.6 L1421.6 887.6 L1429.2 881.0 L1429.2 881.0 L1482.0 881.0 L1491.1 884.4 L1544.0 884.4 L1551.0 887.6 L1572.8 887.6 L1580.4 881.0 L1580.4 881.0 L1633.2 881.0 L1642.3 884.4 L1695.2 884.4 L1702.2 887.6 L1724.0 887.6 L1731.6 881.0 L1731.6 881.0 L1784.4 881.0 L1793.5 884.4 L1846.4 884.4 L1853.4 887.6 L1875.2 887.6 L1882.0 881.0" stroke="#f2cc0c" stroke-width="1" stroke-opacity="1" fill="none" stroke-linejoin="round"/><defs><linearGradient id="lg" x1="0" y1="0" x2="0" y2="1"><stop offset="0" stop-color="#f15a29"/><stop offset="0.5" stop-color="#f58a1f"/><stop offset="1" stop-color="#fcc60d"/></linearGradient></defs><polygon points="28.9,5.9 31.6,8.6 35.9,8.6 36.6,12.2 39.2,16.0 37.6,19.8 39.0,23.6 35.6,25.8 32.8,30.0 29.6,27.9 23.2,28.9 22.7,25.5 17.0,21.0 19.0,17.4 19.2,10.0 23.4,9.9 26.4,7.2" fill="url(#lg)" stroke="url(#lg)" stroke-width="0.8" stroke-linejoin="round"/><path d="M35.78 20.92 A5.5 5.5 0 1 1 35.90 15.45" stroke="#181b1f" stroke-width="2.7" fill="none"/><circle cx="31.2" cy="19.6" r="1.9" fill="#181b1f"/><path d="M30.4 20.6 Q29.2 21.8 27.9 22.3" stroke="#181b1f" stroke-width="1.3" fill="none"/><circle cx="744.1" cy="17.2" r="5.3" stroke="#9d9da8" stroke-width="1.5"/><path d="M748.2 21.3 L751.2 24.3" stroke="#9d9da8" stroke-width="1.6" stroke-linecap="round"/><rect x="1132.7" y="13.7" width="12.6" height="8.6" rx="1.3" stroke="#9d9da8" stroke-width="1.3"/><path d="M1134.8 16.2h1.2M1137.4 16.2h1.2M1140 16.2h1.2M1142.4 16.2h1M1135.2 19.8h7.6" stroke="#9d9da8" stroke-width="1.1"/><path d="M1759 12.2V23.8M1753.2 18H1764.8" stroke="#9d9da8" stroke-width="1.5"/><path d="M1772.3 16.3L1776 19.8L1779.7 16.3" stroke="#9d9da8" stroke-width="1.3"/><path d="M1797.5 6V30" stroke="rgba(204,204,220,0.15)" stroke-width="1"/><circle cx="1819.9" cy="18" r="6.9" stroke="#9d9da8" stroke-width="1.4"/><path d="M1817.8 16.3 A2.1 2.1 0 1 1 1820.8 18.2 C1820.1 18.6 1819.9 19 1819.9 19.8" stroke="#9d9da8" stroke-width="1.4"/><rect x="1819.2" y="20.6" width="1.4" height="1.4" fill="#9d9da8"/><circle cx="1855" cy="23.2" r="1.6" stroke="#9d9da8" stroke-width="1.3"/><path d="M1854.2 18.9 A4.6 4.6 0 0 1 1858.8 23.5" stroke="#9d9da8" stroke-width="1.4"/><path d="M1854.2 15.8 A7.7 7.7 0 0 1 1861.9 23.5" stroke="#9d9da8" stroke-width="1.4"/><path d="M1854.2 12.6 A10.9 10.9 0 0 1 1865.1 23.5" stroke="#9d9da8" stroke-width="1.4"/><clipPath id="av"><circle cx="1897" cy="18" r="12"/></clipPath><g clip-path="url(#av)"><rect x="1885" y="6" width="24" height="24" fill="#3f5c0f"/><rect x="1887.6" y="8.2" width="2.4" height="2.8" fill="#f4786e"/><rect x="1904" y="8.2" width="2.4" height="2.8" fill="#f4786e"/><rect x="1892.2" y="8.3" width="2.5" height="9.4" fill="#f4786e"/><rect x="1899.4" y="8.3" width="2.5" height="9.4" fill="#f4786e"/><rect x="1894.7" y="10.7" width="4.7" height="3.2" fill="#f4786e"/><rect x="1887.3" y="18" width="4.9" height="7.1" fill="#f4786e"/><rect x="1892.2" y="22.6" width="2.2" height="2.5" fill="#f4786e"/><rect x="1889.8" y="25.1" width="2.4" height="2.5" fill="#f4786e"/><rect x="1901.8" y="18" width="4.9" height="7.1" fill="#f4786e"/><rect x="1899.6" y="22.6" width="2.2" height="2.5" fill="#f4786e"/><rect x="1901.8" y="25.1" width="2.4" height="2.5" fill="#f4786e"/><rect x="1894.7" y="20.1" width="4.7" height="2.2" fill="#f4786e"/><rect x="1894.7" y="25.1" width="4.7" height="2.5" fill="#f4786e"/></g><path d="M18.5 53.2H37.5M18.5 58H37.5M18.5 62.8H37.5" stroke="#ccccdc" stroke-width="1.5"/><path d="M105.6 55.3L108.6 58.5L105.6 61.7" stroke="#9d9da8" stroke-width="1.2"/><path d="M211.8 55.3L214.8 58.5L211.8 61.7" stroke="#9d9da8" stroke-width="1.2"/><path d="M283.1 51.6L285.2 55.9L289.7 56.6L286.4 59.7L287.2 64.3L283.1 62.1L279 64.3L279.8 59.7L276.5 56.6L281 55.9Z" stroke="#ccccdc" stroke-width="1.4" stroke-linejoin="round"/><circle cx="321.4" cy="53.4" r="2.2" stroke="#ccccdc" stroke-width="1.4"/><circle cx="312.3" cy="57.9" r="2.2" stroke="#ccccdc" stroke-width="1.4"/><circle cx="321.4" cy="62.4" r="2.2" stroke="#ccccdc" stroke-width="1.4"/><path d="M314.3 56.9L319.4 54.4M314.3 58.9L319.4 61.4" stroke="#ccccdc" stroke-width="1.4"/><rect x="1416.8" y="56.4" width="1.6" height="6.600000000000001" fill="#6e9fff"/><rect x="1419.8" y="54.7" width="1.6" height="8.299999999999997" fill="#6e9fff"/><rect x="1422.8" y="57.6" width="1.6" height="5.399999999999999" fill="#6e9fff"/><rect x="1425.8" y="53" width="1.6" height="10" fill="#6e9fff"/><rect x="1428.6" y="58.6" width="1.6" height="4.4" fill="#6e9fff"/><path d="M1432 54.8V61.2M1428.8 58H1435.2" stroke="#ffb357" stroke-width="1.7"/><path d="M1473.6 55.9L1477.2 59.5L1480.8 55.9" stroke="#6e9fff" stroke-width="1.3"/><path d="M1511.6 52.5H1519.8L1523.2 55.9V63.2Q1523.2 64.2 1522.2 64.2H1512.6Q1511.6 64.2 1511.6 63.2Z" stroke="#9d9da8" stroke-width="1.4" stroke-linejoin="round"/><path d="M1514.3 52.7V54.8H1518.9V52.7M1514.3 64V60.6Q1514.3 59.7 1515.2 59.7H1519.3Q1520.2 59.7 1520.2 60.6V64" stroke="#9d9da8" stroke-width="1.3"/><path d="M1568.16 58.72 L1567.89 60.10 L1565.93 60.65 L1565.32 61.56 L1565.56 63.57 L1564.38 64.36 L1562.62 63.36 L1561.54 63.57 L1560.28 65.16 L1558.90 64.89 L1558.35 62.93 L1557.44 62.32 L1555.43 62.56 L1554.64 61.38 L1555.64 59.62 L1555.43 58.54 L1553.84 57.28 L1554.11 55.90 L1556.07 55.35 L1556.68 54.44 L1556.44 52.43 L1557.62 51.64 L1559.38 52.64 L1560.46 52.43 L1561.72 50.84 L1563.10 51.11 L1563.65 53.07 L1564.56 53.68 L1566.57 53.44 L1567.36 54.62 L1566.36 56.38 L1566.57 57.46Z" stroke="#9d9da8" stroke-width="1.3" stroke-linejoin="round"/><circle cx="1561" cy="58" r="2.4" stroke="#9d9da8" stroke-width="1.3"/><circle cx="1605" cy="58" r="6.9" stroke="#9d9da8" stroke-width="1.4"/><path d="M1605 54.2V58.2H1602.4" stroke="#9d9da8" stroke-width="1.4"/><path d="M1736.4 56.1L1740 59.7L1743.6 56.1" stroke="#9d9da8" stroke-width="1.3"/><path d="M1848.7 55.9L1852.3 59.5L1855.8999999999999 55.9" stroke="#9d9da8" stroke-width="1.3"/><circle cx="1773.4" cy="57.2" r="5.9" stroke="#9d9da8" stroke-width="1.4"/><path d="M1770.5 57.2H1776.3M1777.6 61.4L1780.6 64.6" stroke="#9d9da8" stroke-width="1.5"/><path d="M1812.84 54.39 A6.3 6.3 0 0 1 1824.24 57.12" stroke="#9d9da8" stroke-width="1.5"/><path d="M1823.16 61.61 A6.3 6.3 0 0 1 1811.76 58.88" stroke="#9d9da8" stroke-width="1.5"/><path d="M1811.9 50.6V54.8H1816" stroke="#9d9da8" stroke-width="1.5"/><path d="M1824.2 65.4V61.2H1820.1" stroke="#9d9da8" stroke-width="1.5"/><path d="M1873.5 46V69.5" stroke="rgba(204,204,220,0.15)" stroke-width="1"/><path d="M1890.3 61.5L1894.8 57L1899.3 61.5" stroke="#9d9da8" stroke-width="1.6"/><path d="M200.2 108.2L203.1 111.1L206 108.2" stroke="#ccccdc" stroke-width="1.2"/><path d="M0.5 0V956" stroke="#2c2d31" stroke-width="1"/><path d="M0 956 A10 10 0 0 0 10 967 L0 967 Z" fill="#2b5c9b"/><path d="M0.5 955.5 A10.5 10.5 0 0 0 10.5 966.5 H1911 A10 10 0 0 0 1918 963.2" stroke="#2f3035" stroke-width="1" fill="none"/><path d="M1918 963.6 A10 10 0 0 1 1911 967 L1918 967 Z" fill="#8e3a12"/></svg>
</body></html>
